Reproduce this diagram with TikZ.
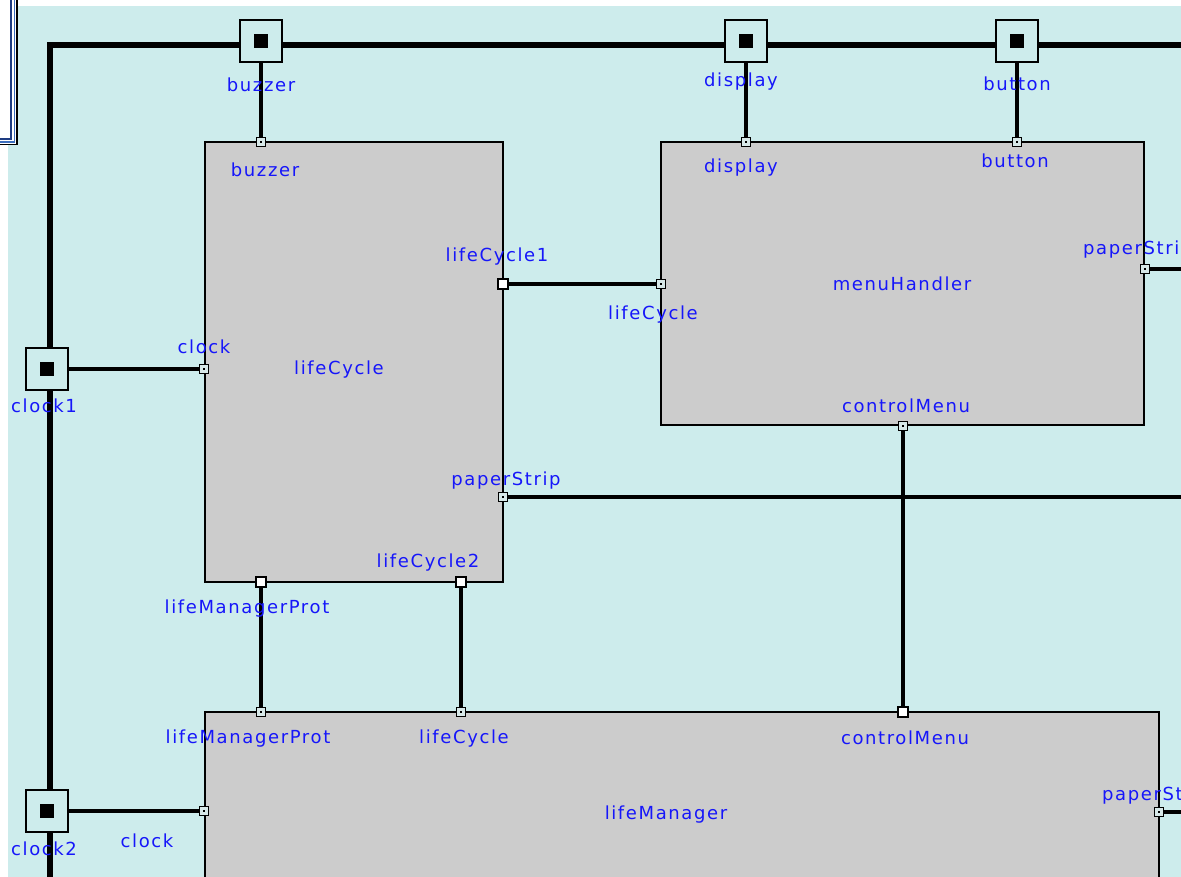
\documentclass[tikz,border=0pt]{standalone}
\usepackage{fontspec}
\newfontfamily\labfont[LetterSpace=9]{DejaVu Sans}
\definecolor{bgcyan}{RGB}{205,236,236}
\definecolor{boxgray}{RGB}{204,204,204}
\definecolor{labblue}{RGB}{22,22,250}
\definecolor{portfill}{RGB}{215,232,232}
\definecolor{navy}{RGB}{30,60,130}
\definecolor{midblue}{RGB}{60,110,190}
\begin{document}
\begin{tikzpicture}[x=1pt,y=-1pt,
  comp/.style={draw=black,line width=1.6pt,fill=boxgray,rectangle,inner sep=0pt},
  extport/.style={rectangle,draw=black,line width=1.6pt,fill=bgcyan,minimum size=42pt,inner sep=0pt,
    path picture={\fill[black] ([xshift=-7pt,yshift=-7pt]path picture bounding box.center) rectangle ([xshift=7pt,yshift=7pt]path picture bounding box.center);}},
  port/.style={rectangle,draw=black,line width=1.4pt,fill=portfill,minimum size=9pt,inner sep=0pt,
    path picture={\fill[black] ([xshift=-1.3pt,yshift=-1.3pt]path picture bounding box.center) rectangle ([xshift=1.3pt,yshift=1.3pt]path picture bounding box.center);}},
  bport/.style={rectangle,draw=black,line width=2.8pt,fill=white,minimum size=10pt,inner sep=0pt},
  wire/.style={draw=black,line width=3.4pt},
  frameline/.style={draw=black,line width=6pt,miter limit=10},
  lbl/.style={text=labblue,font=\labfont\fontsize{18}{20}\selectfont,inner sep=0pt,anchor=base}
]
\useasboundingbox (0,0) rectangle (1181,877);
\clip (0,0) rectangle (1181,877);
% background
\fill[white] (0,0) rectangle (1181,877);
\fill[bgcyan] (8,6) rectangle (1181,877);
% top-left window corner fragment
\fill[white] (0,0) rectangle (18,145);
\draw[navy,line width=1.5pt] (11,0) -- (11,139) -- (0,139);
\draw[midblue,line width=1.2pt] (14.5,0) -- (14.5,142) -- (0,142);
\draw[black,line width=1.6pt] (17.2,0) -- (17.2,144.5) -- (0,144.5);

% components
\node[comp,minimum width=298pt,minimum height=440pt] (lifeCycle) at (354,362) {};
\node[comp,minimum width=483pt,minimum height=283pt] (menuHandler) at (902.5,283.5) {};
\node[comp,minimum width=954pt,minimum height=240pt] (lifeManager) at (682,832) {};

% outer frame
\draw[frameline] (50,900) -- (50,45) -- (1200,45);

% external ports
\node[extport] (xbuzzer) at (261,41) {};
\node[extport] (xdisplay) at (746,41) {};
\node[extport] (xbutton) at (1017,41) {};
\node[extport] (xclock1) at (47,369) {};
\node[extport] (xclock2) at (47,811) {};

% component ports
\node[port] (lcBuzzer) at (261,142) {};
\node[port] (lcClock) at (204,369) {};
\node[bport] (lcLife1) at (503,284) {};
\node[port] (lcPaper) at (503,497) {};
\node[bport] (lcLMP) at (261,582) {};
\node[bport] (lcLife2) at (461,582) {};
\node[port] (mhDisplay) at (746,142) {};
\node[port] (mhButton) at (1017,142) {};
\node[port] (mhLife) at (661,284) {};
\node[port] (mhPaper) at (1145,269) {};
\node[port] (mhCtrl) at (903,426) {};
\node[port] (lmLMP) at (261,712) {};
\node[port] (lmLife) at (461,712) {};
\node[bport] (lmCtrl) at (903,712) {};
\node[port] (lmClock) at (204,811) {};
\node[port] (lmPaper) at (1159,812) {};

\coordinate (eMH) at (1200,269);
\coordinate (eLC) at (1200,497);
\coordinate (eLM) at (1200,812);

% wires
\draw[wire] (xbuzzer.south) -- (lcBuzzer.north);
\draw[wire] (xdisplay.south) -- (mhDisplay.north);
\draw[wire] (xbutton.south) -- (mhButton.north);
\draw[wire] (xclock1.east) -- (lcClock.west);
\draw[wire] (xclock2.east) -- (lmClock.west);
\draw[wire] (lcLife1.east) -- (mhLife.west);
\draw[wire] (lcPaper.east) -- (eLC);
\draw[wire] (mhPaper.east) -- (eMH);
\draw[wire] (lmPaper.east) -- (eLM);
\draw[wire] (mhCtrl.south) -- (lmCtrl.north);
\draw[wire] (lcLMP.south) -- (lmLMP.north);
\draw[wire] (lcLife2.south) -- (lmLife.north);

% labels
\node[lbl] (t1) at (261,92) {buzzer};
\node[lbl] (t2) at (265,177) {buzzer};
\node[lbl] (t3) at (741,87) {display};
\node[lbl] (t4) at (741,173) {display};
\node[lbl] (t5) at (1017,91) {button};
\node[lbl] (t6) at (1015,168) {button};
\node[lbl] (t7) at (204,353) {clock};
\node[lbl] (t8) at (44,412) {clock1};
\node[lbl] (t9) at (497,262) {lifeCycle1};
\node[lbl] (t10) at (653,320) {lifeCycle};
\node[lbl,anchor=base west] (t11) at (1083,255) {paperStrip};
\node[lbl] (t12) at (902,291) {menuHandler};
\node[lbl] (t13) at (906,412) {controlMenu};
\node[lbl] (t14) at (339,374) {lifeCycle};
\node[lbl] (t15) at (506,485) {paperStrip};
\node[lbl] (t16) at (428,567) {lifeCycle2};
\node[lbl] (t17) at (247,613) {lifeManagerProt};
\node[lbl] (t18) at (248,743) {lifeManagerProt};
\node[lbl] (t19) at (464,743) {lifeCycle};
\node[lbl] (t20) at (905,744) {controlMenu};
\node[lbl] (t21) at (666,819) {lifeManager};
\node[lbl,anchor=base west] (t22) at (1102,800) {paperStrip};
\node[lbl] (t23) at (147,847) {clock};
\node[lbl] (t24) at (44,855) {clock2};
\end{tikzpicture}
\end{document}
